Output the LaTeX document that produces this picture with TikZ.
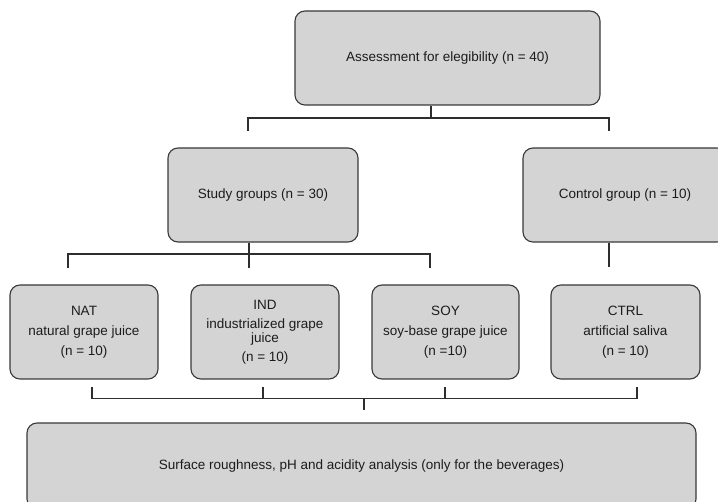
\documentclass[tikz,border=0pt]{standalone}
\usepackage{fontspec}
\setmainfont{Liberation Sans}
\usepackage{xcolor}
\definecolor{boxfill}{HTML}{D4D4D4}
\definecolor{boxline}{HTML}{3A3A3A}
\definecolor{linkcol}{HTML}{2E2E2E}
\definecolor{textcol}{HTML}{1C1C1C}

\begin{document}
\begin{tikzpicture}[x=1pt,y=-1pt,
    box/.style={draw=boxline,fill=boxfill,rounded corners=10pt,line width=1.1pt,
        align=center,inner sep=0pt,text=textcol,font=\fontsize{13.5}{20}\selectfont},
    link/.style={draw=linkcol,line width=1.3pt}]
                \useasboundingbox (0,0) rectangle (718,502);
                \fill[white] (0,0) rectangle (718,502);
                \clip (0,0) rectangle (718,502);
                % boxes
                \node[box,minimum width=305pt,minimum height=94pt] (assess) at (447.5,58) {Assessment for elegibility (n = 40)};
                \node[box,minimum width=190pt,minimum height=94pt] (study) at (263,195) {Study groups (n = 30)};
                \node[box,minimum width=204pt,minimum height=94pt] (control) at (625,195) {Control group (n = 10)};
                \node[box,minimum width=148pt,minimum height=94pt] (nat) at (84,332) {NAT\\natural grape juice\\(n = 10)};
                \node[box,minimum width=148pt,minimum height=94pt] (ind) at (265,332) {IND\\[-1pt]industrialized grape\\[-6pt]juice\\[-1pt](n = 10)};
                \node[box,minimum width=147pt,minimum height=94pt] (soy) at (445.5,332) {SOY\\soy-base grape juice\\(n =10)};
                \node[box,minimum width=149pt,minimum height=94pt] (ctrl) at (625.5,332) {CTRL\\artificial saliva\\(n = 10)};
                \node[box,minimum width=669pt,minimum height=86pt] (analysis) at (361.5,466) {Surface roughness, pH and acidity analysis (only for the beverages)};
                % first split
                \coordinate (j0) at (431,118);
                \coordinate (a1) at (248,131);
                \coordinate (a2) at (609,131);
                \draw[link] (assess.south -| j0)--(j0);
                \draw[link] (a1)--(a1 |- j0)--(a2 |- j0)--(a2);
                % study groups
                \coordinate (j1) at (249,268);
                \coordinate (b0) at (249,254);
                \coordinate (b1) at (68,268);
                \coordinate (b2) at (430,268);
                \draw[link] (study.south -| j1)--(j1);
                \draw[link] (b1)--(b1 |- b0)--(b2 |- b0)--(b2);
                % control group
                \coordinate (j2) at (609,267);
                \draw[link] (control.south -| j2)--(j2);
                % joining the four groups
                \coordinate (j3) at (364,398.5);
                \coordinate (j4) at (364,410);
                \coordinate (c1) at (92,387);
                \coordinate (c2) at (263,387);
                \coordinate (c3) at (445,387);
                \coordinate (c4) at (637,387);
                \draw[link] (c1)--(c1 |- j3)--(c4 |- j3)--(c4);
                \draw[link] (c2)--(c2 |- j3);
                \draw[link] (c3)--(c3 |- j3);
                \draw[link] (j3)--(j4);
            \end{tikzpicture}
\end{document}
